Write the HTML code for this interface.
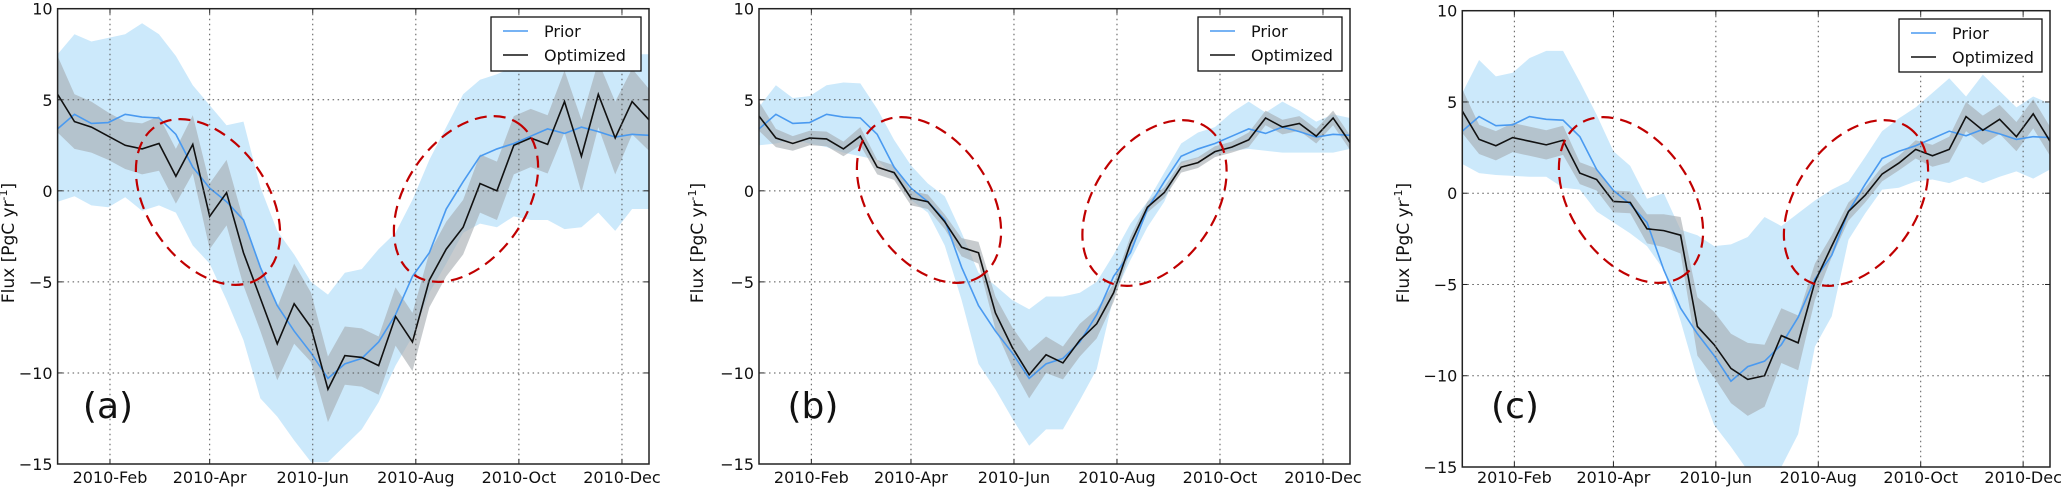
<!DOCTYPE html>
<html><head><meta charset="utf-8">
<style>
html,body{margin:0;padding:0;background:#fff;}
svg{display:block;}
text{font-family:"DejaVu Sans","Liberation Sans",sans-serif;}
</style></head>
<body>
<svg id="chart" width="2063" height="490" viewBox="0 0 2063 490" xmlns="http://www.w3.org/2000/svg"></svg>
<script>
// ---- data ----
const days = [0,10,20,30,40,50,60,70,80,90,100,110,120,130,140,150,160,170,180,190,200,210,220,230,240,250,260,270,280,290,300,310,320,330,340,350];
const xTickDays = [31,90,151,212,273,334];
const xTickLabels = ["2010-Feb","2010-Apr","2010-Jun","2010-Aug","2010-Oct","2010-Dec"];
const yTicks = [-15,-10,-5,0,5,10];
const yTickLabels = ["\u221215","\u221210","\u22125","0","5","10"];

const priorFlux = [3.4,4.2,3.7,3.75,4.2,4.05,4.0,3.1,1.3,0.15,-0.6,-1.6,-4.2,-6.3,-7.7,-8.9,-10.3,-9.5,-9.2,-8.3,-6.8,-4.7,-3.4,-1.0,0.5,1.9,2.3,2.6,3.0,3.4,3.15,3.5,3.25,2.95,3.1,3.05];

const priorUpA = [7.5,8.6,8.2,8.4,8.6,9.2,8.6,7.4,5.8,4.7,3.6,3.8,0.2,-2.2,-3.5,-5.0,-5.7,-4.5,-4.3,-3.2,-2.3,-0.5,1.7,3.5,5.3,6.1,6.4,6.8,7.2,7.4,7.5,7.5,7.8,7.5,7.5,7.5];
const priorLoA = [-0.6,-0.3,-0.8,-0.9,-0.35,-1.1,-0.8,-1.2,-3.0,-4.0,-6.0,-8.2,-11.4,-12.4,-13.7,-14.9,-14.9,-14.0,-13.1,-11.6,-9.6,-8.0,-5.6,-4.0,-2.3,-1.8,-2.0,-1.4,-1.6,-1.6,-2.1,-2.0,-1.2,-2.2,-1.0,-1.0];
const optA = [5.3,3.8,3.5,3.0,2.5,2.3,2.6,0.8,2.55,-1.4,-0.1,-3.4,-5.9,-8.4,-6.2,-7.5,-10.9,-9.05,-9.15,-9.6,-6.9,-8.3,-4.9,-3.2,-2.0,0.4,0.0,2.5,2.9,2.55,4.9,1.9,5.3,2.9,4.9,3.9];
const optHalfA = [2.1,1.5,1.4,1.3,1.3,1.4,1.5,1.5,1.6,1.8,1.8,1.8,1.8,2.0,2.2,1.9,1.8,1.6,1.6,1.6,1.6,1.6,1.5,1.5,1.5,1.6,1.6,1.6,1.6,1.6,1.7,2.0,1.8,2.0,1.8,1.7];

const priorUpB = [4.6,5.8,5.1,5.2,5.8,5.95,5.9,4.5,2.8,1.4,0.4,-0.3,-2.3,-4.5,-5.2,-6.0,-6.5,-5.8,-5.8,-5.6,-5.0,-3.5,-1.8,-0.6,1.0,2.6,3.2,3.5,4.3,4.9,4.3,4.9,4.4,3.8,4.2,4.0];
const priorLoB = [2.5,2.6,2.8,2.6,2.4,2.1,1.9,1.7,0.8,-0.5,-1.2,-3.0,-6.0,-9.5,-10.9,-12.5,-14.0,-13.1,-13.1,-11.5,-9.8,-5.8,-3.8,-2.0,-0.6,1.5,1.8,2.0,2.2,2.3,2.2,2.1,2.1,2.1,2.1,2.3];
const optB = [4.1,2.9,2.6,2.9,2.85,2.3,3.0,1.3,1.0,-0.4,-0.6,-1.7,-3.1,-3.4,-6.7,-8.6,-10.1,-9.0,-9.45,-8.2,-7.3,-5.6,-2.9,-0.9,-0.1,1.3,1.55,2.15,2.4,2.8,4.0,3.5,3.7,3.0,4.0,2.65];
const optHalfB = [0.8,0.5,0.4,0.4,0.4,0.4,0.5,0.4,0.4,0.4,0.4,0.4,0.5,0.6,0.9,1.1,1.3,1.0,0.9,0.9,0.8,0.5,0.4,0.3,0.3,0.3,0.3,0.3,0.3,0.4,0.4,0.4,0.4,0.4,0.4,0.4];

const priorUpC = [5.5,7.3,6.4,6.6,7.4,7.8,7.8,6.1,4.3,2.3,1.5,-0.3,0.0,-2.0,-2.3,-2.9,-2.8,-2.4,-1.3,-1.8,-1.1,-0.4,0.2,0.65,2.0,3.4,4.1,4.7,5.5,6.3,5.3,6.5,5.6,4.7,5.3,4.9];
const priorLoC = [1.6,1.1,1.0,0.95,0.9,0.9,0.3,0.2,-1.0,-1.6,-2.2,-2.9,-4.2,-7.0,-10.2,-12.7,-13.9,-15.2,-15.5,-15.0,-13.2,-8.4,-6.75,-2.55,-1.1,0.2,0.3,0.65,0.75,0.55,0.9,0.55,0.9,1.2,0.8,1.3];
const optC = [4.5,2.95,2.6,3.05,2.85,2.65,2.9,1.1,0.75,-0.45,-0.5,-1.95,-2.05,-2.3,-7.3,-8.3,-9.6,-10.2,-10.0,-7.8,-8.2,-4.85,-2.9,-1.0,-0.1,1.05,1.65,2.4,2.05,2.4,4.2,3.45,4.05,3.1,4.35,2.85];
const optHalfC = [1.2,0.8,0.8,0.8,0.8,0.8,0.8,0.6,0.6,0.6,0.6,0.8,0.9,1.0,1.6,1.8,1.9,2.0,1.7,1.5,1.5,1.0,0.6,0.5,0.4,0.4,0.4,0.5,0.6,0.7,0.8,0.8,0.8,0.8,0.8,0.8];

// ---- layout (not data) ----
const panels = [
 {id:"a", x0:57.6, x1:649, yTop:8.7, yBot:464, up:priorUpA, lo:priorLoA, opt:optA, half:optHalfA, lab:"(a)", labX:108, ylabX:14, leg:[491,17,150,54],
  ells:[[208,202,55],[466,199,-55]]},
 {id:"b", x0:759, x1:1350, yTop:8.7, yBot:464, up:priorUpB, lo:priorLoB, opt:optB, half:optHalfB, lab:"(b)", labX:813, ylabX:703, leg:[1198,17,144,54],
  ells:[[929,200,55],[1154.5,203,-55]]},
 {id:"c", x0:1462.3, x1:2050, yTop:10.7, yBot:467, up:priorUpC, lo:priorLoC, opt:optC, half:optHalfC, lab:"(c)", labX:1515, ylabX:1409, leg:[1899,19,143,53],
  ells:[[1631,200,55],[1856,203,-55]]}
];
const NS="http://www.w3.org/2000/svg";
const svg=document.getElementById("chart");
function mk(tag,attrs,parent){const e=document.createElementNS(NS,tag);for(const k in attrs)e.setAttribute(k,attrs[k]);(parent||svg).appendChild(e);return e;}

panels.forEach(p=>{
  const g=mk("g",{});
  
  
  const xs=d=>p.x0+(d-days[0])*(p.x1-p.x0)/(days[days.length-1]-days[0]);
  const ys=v=>p.yTop+(10-v)*(p.yBot-p.yTop)/25;
  const clip=mk("clipPath",{id:"clip-"+p.id},g);
  mk("rect",{x:p.x0,y:p.yTop,width:p.x1-p.x0,height:p.yBot-p.yTop},clip);
  const pg=mk("g",{"clip-path":"url(#clip-"+p.id+")"},g);
  let pts=days.map((d,i)=>xs(d)+","+ys(p.up[i]));
  pts=pts.concat(days.map((d,i)=>xs(d)+","+ys(p.lo[i])).reverse());
  const pb=mk("polygon",{points:pts.join(" "),fill:"#cce9fb"},pg);
  
  
  let op=days.map((d,i)=>xs(d)+","+ys(p.opt[i]+p.half[i]));
  op=op.concat(days.map((d,i)=>xs(d)+","+ys(p.opt[i]-p.half[i])).reverse());
  const ob=mk("polygon",{points:op.join(" "),fill:"#a4abb0","fill-opacity":"0.62"},pg);
  
  
  yTicks.forEach(v=>{ if(v>-15&&v<10){const l=mk("line",{x1:p.x0,x2:p.x1,y1:ys(v),y2:ys(v),stroke:"#555","stroke-width":1,"stroke-dasharray":"1.5,3.5"},g);
    }});
  xTickDays.forEach(d=>{const l=mk("line",{x1:xs(d),x2:xs(d),y1:p.yTop,y2:p.yBot,stroke:"#555","stroke-width":1,"stroke-dasharray":"1.5,3.5"},g);
    });
  const pl=mk("polyline",{points:days.map((d,i)=>xs(d)+","+ys(priorFlux[i])).join(" "),fill:"none",stroke:"#4a9af0","stroke-width":1.6},pg);
  
  const ol=mk("polyline",{points:days.map((d,i)=>xs(d)+","+ys(p.opt[i])).join(" "),fill:"none",stroke:"#111","stroke-width":1.6},pg);
  
  p.ells.forEach(e=>{const el=mk("ellipse",{cx:e[0],cy:e[1],rx:92,ry:60,transform:"rotate("+e[2]+" "+e[0]+" "+e[1]+")",fill:"none",stroke:"#c00000","stroke-width":2.2,"stroke-dasharray":"12,7"},g);
    });
  const fr=mk("rect",{x:p.x0,y:p.yTop,width:p.x1-p.x0,height:p.yBot-p.yTop,fill:"none",stroke:"#222","stroke-width":1.5},g);
  
  yTicks.forEach((v,i)=>{
    mk("line",{x1:p.x0,x2:p.x0+5,y1:ys(v),y2:ys(v),stroke:"#222"},g);
    mk("line",{x1:p.x1,x2:p.x1-5,y1:ys(v),y2:ys(v),stroke:"#222"},g);
    const t=mk("text",{x:p.x0-5,y:ys(v)+6,"text-anchor":"end","font-size":16,fill:"#111"},g);
    t.textContent=yTickLabels[i];
    
  });
  xTickDays.forEach((d,i)=>{
    mk("line",{x1:xs(d),x2:xs(d),y1:p.yBot,y2:p.yBot-5,stroke:"#222"},g);
    mk("line",{x1:xs(d),x2:xs(d),y1:p.yTop,y2:p.yTop+5,stroke:"#222"},g);
    const t=mk("text",{x:xs(d),y:483,"text-anchor":"middle","font-size":16,fill:"#111"},g);
    t.textContent=xTickLabels[i];
    
  });
  const yl=mk("text",{x:0,y:0,transform:"translate("+p.ylabX+",243) rotate(-90)","text-anchor":"middle","font-size":17,fill:"#111"},g);
  yl.innerHTML='Flux [PgC yr<tspan dy="-7" font-size="11">-1</tspan><tspan dy="7">]</tspan>';
  
  const pl2=mk("text",{x:p.labX,y:418,"text-anchor":"middle","font-size":36,fill:"#111","font-family":"Liberation Sans, sans-serif"},g);
  pl2.textContent=p.lab;
  
  const L=p.leg;
  const lg=mk("g",{},g);
  
  mk("rect",{x:L[0],y:L[1],width:L[2],height:L[3],fill:"#fff",stroke:"#111","stroke-width":1.3},lg);
  mk("line",{x1:L[0]+12,x2:L[0]+37,y1:L[1]+14,y2:L[1]+14,stroke:"#4a9af0","stroke-width":1.6},lg);
  mk("line",{x1:L[0]+12,x2:L[0]+37,y1:L[1]+38,y2:L[1]+38,stroke:"#111","stroke-width":1.6},lg);
  const t1=mk("text",{x:L[0]+53,y:L[1]+20,"font-size":16,fill:"#111"},lg);t1.textContent="Prior";
  
  const t2=mk("text",{x:L[0]+53,y:L[1]+44,"font-size":16,fill:"#111"},lg);t2.textContent="Optimized";
  
});
</script>
</body></html>
